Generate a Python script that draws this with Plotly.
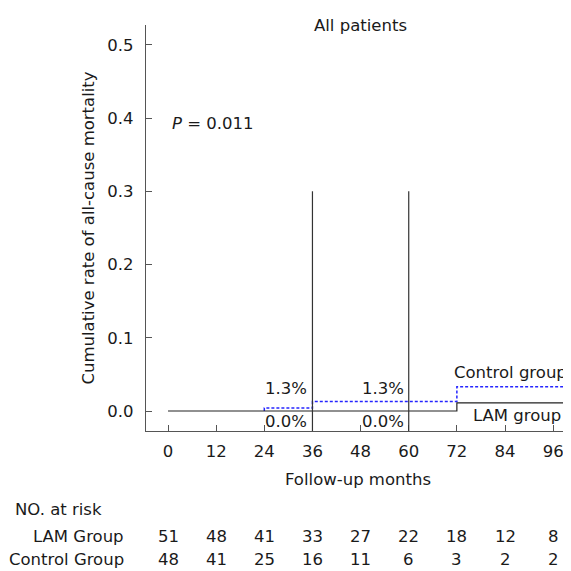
import plotly.graph_objects as go

# ---- data ----
tick_months = [0, 12, 24, 36, 48, 60, 72, 84, 96]
y_ticks = [0.0, 0.1, 0.2, 0.3, 0.4, 0.5]

lam_months = [0, 72, 100]
lam_rate = [0.0, 0.011, 0.011]

ctrl_months = [24, 24, 36, 72, 100]
ctrl_rate = [0.0, 0.004, 0.013, 0.033, 0.033]

ref_months = [36, 60]
ref_top = 0.3

lam_risk = [51, 48, 41, 33, 27, 22, 18, 12, 8]
ctrl_risk = [48, 41, 25, 16, 11, 6, 3, 2, 2]

pct_labels_upper = ["1.3%", "1.3%"]
pct_labels_lower = ["0.0%", "0.0%"]

FONT = "DejaVu Sans"
FS = 16.5
TXT = "#1a1a1a"
X_RANGE = [-5.49, 100.2]
Y_RANGE = [-0.0273, 0.527]

fig = go.Figure()

fig.add_trace(go.Scatter(
    x=ctrl_months, y=ctrl_rate, mode="lines", line_shape="hv",
    line=dict(color="#2525ff", width=1.5, dash="3px,2px"),
    showlegend=False, hoverinfo="skip"))
fig.add_trace(go.Scatter(
    x=lam_months, y=lam_rate, mode="lines", line_shape="hv",
    line=dict(color="#222222", width=1.2),
    showlegend=False, hoverinfo="skip"))

for m in ref_months:
    fig.add_shape(type="line", xref="x", yref="y", x0=m, x1=m,
                  y0=Y_RANGE[0], y1=ref_top,
                  line=dict(color="#333333", width=1.2))

ann = []
font = dict(family=FONT, size=FS, color=TXT)

# percentage labels
for m, up, lo in zip(ref_months, pct_labels_upper, pct_labels_lower):
    ann.append(dict(x=m, y=0.0314, xref="x", yref="y", text=up,
                    xanchor="right", yanchor="middle", xshift=-3,
                    showarrow=False, font=font))
    ann.append(dict(x=m, y=-0.0137, xref="x", yref="y", text=lo,
                    xanchor="right", yanchor="middle", xshift=-3,
                    showarrow=False, font=font))

ann.append(dict(x=99.9, y=0.052, xref="x", yref="y", text="Control group",
                xanchor="right", yanchor="middle",
                showarrow=False, font=font))
ann.append(dict(x=98.5, y=-0.0055, xref="x", yref="y", text="LAM group",
                xanchor="right", yanchor="middle",
                showarrow=False, font=font))
ann.append(dict(x=0.5, y=0.393, xref="x", yref="y",
                text="<i>P</i> = 0.011", xanchor="left", yanchor="middle",
                showarrow=False, font=font))
ann.append(dict(x=0.505, y=1.0, xref="paper", yref="paper",
                text="All patients", xanchor="center", yanchor="middle",
                showarrow=False, font=font))

# risk table (positions relative to the plot area, in window pixels)
def py(pix):
    return (431 - pix) / 406.0

ann.append(dict(x=-0.3137, y=py(510), xref="paper", yref="paper",
                text="NO. at risk", xanchor="left", yanchor="middle",
                showarrow=False, font=font))
ann.append(dict(x=-0.0472, y=py(536), xref="paper", yref="paper",
                text="LAM Group", xanchor="right", yanchor="middle",
                showarrow=False, font=font))
ann.append(dict(x=-0.0472, y=py(559), xref="paper", yref="paper",
                text="Control Group", xanchor="right", yanchor="middle",
                showarrow=False, font=font))
for m, a, b in zip(tick_months, lam_risk, ctrl_risk):
    ann.append(dict(x=m, y=py(536), xref="x", yref="paper", text=str(a),
                    xanchor="center", yanchor="middle",
                    showarrow=False, font=font))
    ann.append(dict(x=m, y=py(559), xref="x", yref="paper", text=str(b),
                    xanchor="center", yanchor="middle",
                    showarrow=False, font=font))

# page body has an 8px margin, so the figure is 563 px and offsets shrink by 8
fig.update_layout(
    width=563, height=563,
    margin=dict(l=138, r=1, t=17, b=140, pad=0),
    paper_bgcolor="white", plot_bgcolor="white",
    font=font,
    annotations=ann,
    xaxis=dict(range=X_RANGE, tickvals=tick_months,
               ticktext=[str(t) for t in tick_months],
               ticks="inside", ticklen=6, tickcolor="#555555",
               showline=True, linecolor="#555555", linewidth=1.2,
               showgrid=False, zeroline=False, ticklabelstandoff=5,
               title=dict(text="Follow-up months", standoff=13,
                          font=font),
               tickfont=font),
    yaxis=dict(range=Y_RANGE, tickvals=y_ticks, tickformat=".1f",
               ticks="inside", ticklen=6, tickcolor="#555555",
               showline=True, linecolor="#555555", linewidth=1.2,
               showgrid=False, zeroline=False, ticklabelstandoff=8,
               title=dict(text="Cumulative rate of all-cause mortality",
                          standoff=8, font=font),
               tickfont=font),
)

fig.write_html("out.html")
